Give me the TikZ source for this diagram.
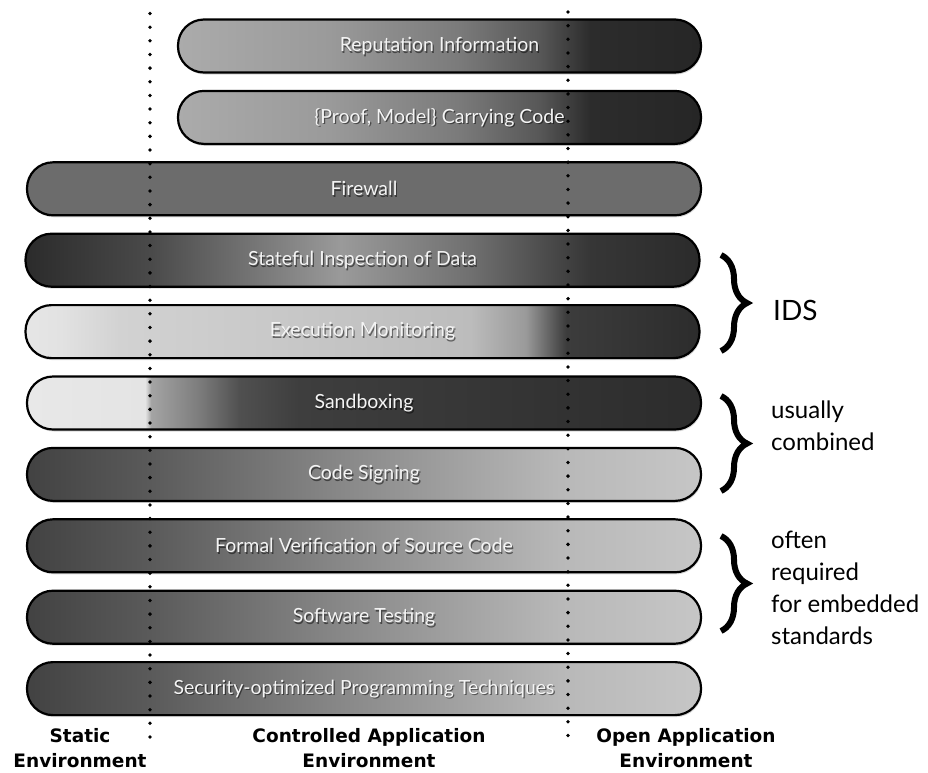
\documentclass[tikz,border=0pt]{standalone}
\usepackage{fontspec}
\setmainfont{Lato}
\newfontfamily\envfont{DejaVu Sans}
\usetikzlibrary{shadows,decorations.pathreplacing}

\definecolor{rA}{HTML}{ABABAB}
\definecolor{rB}{HTML}{9A9A9A}
\definecolor{rC}{HTML}{7A7A7A}
\definecolor{rD}{HTML}{575757}
\definecolor{rE}{HTML}{2C2C2C}
\definecolor{rF}{HTML}{262626}
\pgfdeclarehorizontalshading{shRep}{100bp}{color(0bp)=(rA); color(25bp)=(rA); color(39.5bp)=(rB); color(52bp)=(rC); color(59.6bp)=(rD); color(64.4bp)=(rE); color(75bp)=(rF); color(100bp)=(rF)}

\definecolor{sA}{HTML}{2B2B2B}
\definecolor{sB}{HTML}{4A4A4A}
\definecolor{sC}{HTML}{9A9A9A}
\definecolor{sD}{HTML}{707070}
\definecolor{sE}{HTML}{363636}
\pgfdeclarehorizontalshading{shState}{100bp}{color(0bp)=(sA); color(25bp)=(sA); color(34.3bp)=(sB); color(48.4bp)=(sC); color(58bp)=(sD); color(66.9bp)=(sE); color(75bp)=(sA); color(100bp)=(sA)}

\definecolor{eA}{HTML}{E6E6E6}
\definecolor{eB}{HTML}{E2E2E2}
\definecolor{eC}{HTML}{D2D2D2}
\definecolor{eD}{HTML}{BCBCBC}
\definecolor{eE}{HTML}{9A9A9A}
\definecolor{eF}{HTML}{3C3C3C}
\definecolor{eG}{HTML}{2C2C2C}
\pgfdeclarehorizontalshading{shExec}{100bp}{color(0bp)=(eA); color(25bp)=(eA); color(27.6bp)=(eB); color(32bp)=(eC); color(58bp)=(eD); color(62.1bp)=(eE); color(65.1bp)=(eF); color(75bp)=(eG); color(100bp)=(eG)}

\definecolor{xA}{HTML}{E8E8E8}
\definecolor{xB}{HTML}{E4E4E4}
\definecolor{xC}{HTML}{A4A4A4}
\definecolor{xD}{HTML}{7C7C7C}
\definecolor{xE}{HTML}{505050}
\definecolor{xF}{HTML}{3E3E3E}
\definecolor{xG}{HTML}{2C2C2C}
\pgfdeclarehorizontalshading{shSand}{100bp}{color(0bp)=(xA); color(25bp)=(xA); color(33.77bp)=(xB); color(34.21bp)=(xC); color(37.78bp)=(xD); color(40.75bp)=(xE); color(45.2bp)=(xF); color(75bp)=(xG); color(100bp)=(xG)}

\definecolor{cA}{HTML}{424242}
\definecolor{cB}{HTML}{5A5A5A}
\definecolor{cC}{HTML}{858585}
\definecolor{cD}{HTML}{B8B8B8}
\definecolor{cE}{HTML}{C6C6C6}
\pgfdeclarehorizontalshading{shCode}{100bp}{color(0bp)=(cA); color(25bp)=(cA); color(34.06bp)=(cB); color(47.4bp)=(cC); color(64.5bp)=(cD); color(75bp)=(cE); color(100bp)=(cE)}

\definecolor{fwall}{HTML}{6C6C6C}
\definecolor{bartxt}{HTML}{F4F4F4}

\begin{document}
\begin{tikzpicture}[x=1pt,y=-1pt]
\useasboundingbox (0,0) rectangle (928,772);
\tikzset{
  bar/.style={draw=black, line width=2.2pt, rounded corners=26pt,
    minimum height=53pt, inner sep=0pt,
    drop shadow={opacity=0.3, shadow xshift=1pt, shadow yshift=-2pt}},
  fullbar/.style={bar, minimum width=674pt},
  topbar/.style={bar, minimum width=523pt},
  bartext/.style={font=\fontsize{19.5}{22}\selectfont, text=bartxt, inner sep=0pt},
  barshadow/.style={font=\fontsize{19.5}{22}\selectfont, text=black, opacity=0.5, inner sep=0pt},
  envlabel/.style={font=\envfont\fontsize{18.5}{25}\selectfont\bfseries, align=center, inner sep=0pt},
  sidelabel/.style={align=left, anchor=west, inner sep=0pt},
  bracestyle/.style={decorate, decoration={brace, amplitude=26pt}, line width=6pt}
}

% bars
\node[topbar, shading=shRep] (b1) at (439.5,46) {};
\node[topbar, shading=shRep] (b2) at (439.5,117.4) {};
\node[fullbar, fill=fwall] (b3) at (364,188.8) {};
\node[fullbar, shading=shState] (b4) at (362.5,260.2) {};
\node[fullbar, shading=shExec] (b5) at (362.5,331.6) {};
\node[fullbar, shading=shSand] (b6) at (364,403) {};
\node[fullbar, shading=shCode] (b7) at (364,474.4) {};
\node[fullbar, shading=shCode] (b8) at (364,545.8) {};
\node[fullbar, shading=shCode] (b9) at (364,617.2) {};
\node[fullbar, shading=shCode] (b10) at (364,688.6) {};

% bar texts
\foreach \b/\t in {b1/Reputation Information, b2/{\{Proof, Model\} Carrying Code}, b3/Firewall,
  b4/Stateful Inspection of Data, b5/Execution Monitoring, b6/Sandboxing, b7/Code Signing,
  b8/Formal Verification of Source Code, b9/Software Testing, b10/Security-optimized Programming Techniques}{
  \node[barshadow] (\b s) at ([shift={(1.2pt,-1.6pt)}]\b.center) {\t};
  \node[bartext] (\b t) at (\b.center) {\t};
}

% dotted environment boundaries
\foreach \i in {0,...,53}{
  \fill (150,13.5+13.65*\i) circle (1.9);
  \fill (568,12+13.65*\i) circle (1.9);
}

% environment labels
\node[envlabel] (env1) at (80,748) {Static\\Environment};
\node[envlabel] (env2) at (369,748) {Controlled Application\\Environment};
\node[envlabel] (env3) at (686,748) {Open Application\\Environment};

% braces
\coordinate (br1a) at (721,255);
\coordinate (br1b) at (721,351);
\coordinate (br2a) at (721,396);
\coordinate (br2b) at (721,491);
\coordinate (br3a) at (721,536);
\coordinate (br3b) at (721,631);
\draw[bracestyle] (br1a) -- (br1b);
\draw[bracestyle] (br2a) -- (br2b);
\draw[bracestyle] (br3a) -- (br3b);

\node[anchor=west, font=\fontsize{28}{32}\selectfont, inner sep=0pt] (ids) at (773,310) {IDS};
\node[sidelabel, font=\fontsize{24}{32}\selectfont] (uc) at (771,426) {usually\\combined};
\node[sidelabel, font=\fontsize{24}{32}\selectfont] (ofr) at (771,588) {often\\required\\for embedded\\standards};
\end{tikzpicture}
\end{document}
